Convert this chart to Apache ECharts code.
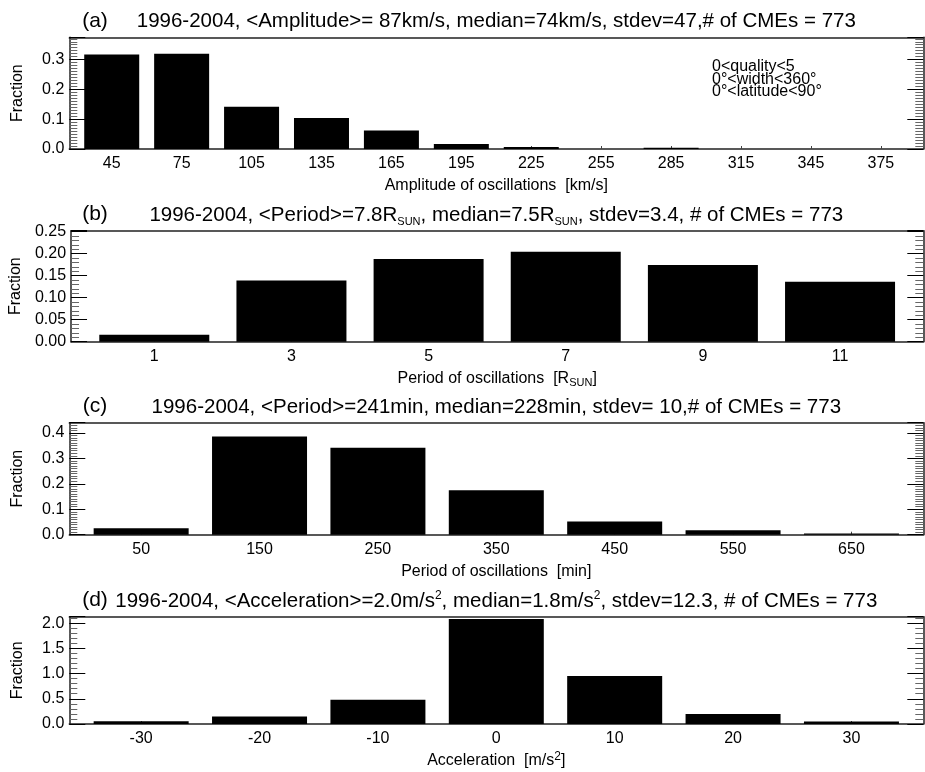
<!DOCTYPE html>
<html><head><meta charset="utf-8">
<script src="https://cdn.jsdelivr.net/npm/echarts@6/dist/echarts.min.js"></script>
<style>html,body{margin:0;padding:0;background:#fff}#c{width:925px;height:772px}</style>
</head><body><div id="c"></div>
<script>
// ---- Panel (a): amplitude of oscillations [km/s]
const ampBins = [45, 75, 105, 135, 165, 195, 225, 255, 285, 315, 345, 375];
const ampFraction = [0.317, 0.320, 0.142, 0.104, 0.062, 0.017, 0.0067, 0, 0.0045, 0, 0, 0];
// ---- Panel (b): period of oscillations [R_SUN]
const perRBins = [1, 3, 5, 7, 9, 11];
const perRFraction = [0.016, 0.139, 0.188, 0.204, 0.174, 0.136];
// ---- Panel (c): period of oscillations [min]
const perMinBins = [50, 150, 250, 350, 450, 550, 650];
const perMinFraction = [0.025, 0.386, 0.342, 0.175, 0.052, 0.017, 0.005];
// ---- Panel (d): acceleration [m/s^2]
const accBins = [-30, -20, -10, 0, 10, 20, 30];
const accFraction = [0.054, 0.150, 0.480, 2.080, 0.950, 0.200, 0.050];

const titleA = '1996-2004, <Amplitude>= 87km/s, median=74km/s, stdev=47,# of CMEs = 773';
const titleB = '1996-2004, <Period>=7.8R{s|SUN}, median=7.5R{s|SUN}, stdev=3.4, # of CMEs = 773';
const titleC = '1996-2004, <Period>=241min, median=228min, stdev= 10,# of CMEs = 773';
const titleD = '1996-2004, <Acceleration>=2.0m/s{p|2}, median=1.8m/s{p|2}, stdev=12.3, # of CMEs = 773';
const xNameA = 'Amplitude of oscillations  [km/s]';
const xNameB = 'Period of oscillations  [R{s|SUN}]';
const xNameC = 'Period of oscillations  [min]';
const xNameD = 'Acceleration  [m/s{p|2}]';
const annotation = '0<quality<5\n0°<width<360°\n0°<latitude<90°';

const FF = '"Liberation Sans", Arial, Helvetica, sans-serif';
const rich = {
  s: {fontSize: 11, lineHeight: 11, verticalAlign: 'bottom', fontFamily: FF, color: '#000'},
  p: {fontSize: 12, lineHeight: 12, verticalAlign: 'top', fontFamily: FF, color: '#000'}
};

const LEFT = 69.3, RIGHT = 1.7;
const panels = [
  {tag: '(a)', title: titleA, bins: ampBins, vals: ampFraction, top: 37.3, height: 111.7, xmin: 26.8, xmax: 393.2,
   ymax: 0.375, yint: 0.1, minor: 10, dec: 1, bw: 55, xname: xNameA},
  {tag: '(b)', title: titleB, bins: perRBins, vals: perRFraction, top: 230.7, height: 111, xmin: -0.214, xmax: 12.214,
   ymax: 0.252, yint: 0.05, minor: 5, dec: 2, bw: 110, xname: xNameB},
  {tag: '(c)', title: titleC, bins: perMinBins, vals: perMinFraction, top: 422.7, height: 112, xmin: -10.7, xmax: 710.7,
   ymax: 0.44, yint: 0.1, minor: 10, dec: 1, bw: 95, xname: xNameC},
  {tag: '(d)', title: titleD, bins: accBins, vals: accFraction, top: 616.7, height: 111, xmin: -36.07, xmax: 36.07,
   ymax: 2.128, yint: 0.5, minor: 5, dec: 1, bw: 95, xname: xNameD}
];

const boxLine = {color: '#222', width: 1.5};
const grid = [], xAxis = [], yAxis = [], series = [], graphic = [];
panels.forEach((p, i) => {
  grid.push({left: LEFT, right: RIGHT, top: p.top, height: p.height, containLabel: false});
  xAxis.push({
    gridIndex: i, type: 'value', position: 'bottom', min: p.xmin, max: p.xmax,
    axisLine: {show: true, onZero: false, lineStyle: boxLine},
    axisTick: {show: true, inside: true, length: 3, customValues: p.bins, lineStyle: {color: '#444'}},
    axisLabel: {show: true, customValues: p.bins, fontSize: 16, fontFamily: FF, color: '#000', margin: 7},
    splitLine: {show: false},
    name: p.xname, nameLocation: 'middle', nameGap: 27,
    nameTextStyle: {fontSize: 16, fontFamily: FF, color: '#000', lineHeight: 20, rich: rich}
  });
  xAxis.push({
    gridIndex: i, type: 'value', position: 'top', min: p.xmin, max: p.xmax,
    axisLine: {show: true, onZero: false, lineStyle: boxLine},
    axisTick: {show: false}, axisLabel: {show: false}, splitLine: {show: false}
  });
  const yBase = {
    gridIndex: i, type: 'value', min: 0, max: p.ymax, interval: p.yint,
    axisLine: {show: true, onZero: false, lineStyle: boxLine},
    axisTick: {show: true, inside: true, length: 16, lineStyle: {color: '#000', width: 1}},
    minorTick: {show: true, splitNumber: p.minor, length: 8, lineStyle: {color: '#666', width: 1}},
    splitLine: {show: false}, minorSplitLine: {show: false}
  };
  yAxis.push(Object.assign({}, yBase, {
    position: 'left',
    axisLabel: {show: true, showMaxLabel: false, formatter: v => v.toFixed(p.dec), fontSize: 16, fontFamily: FF, color: '#000', margin: 5},
    name: 'Fraction', nameLocation: 'middle', nameGap: 44,
    nameTextStyle: {fontSize: 16, fontFamily: FF, color: '#000'}
  }));
  yAxis.push(Object.assign({}, yBase, {position: 'right', axisLabel: {show: false}}));
  series.push({
    type: 'bar', xAxisIndex: 2 * i, yAxisIndex: 2 * i, barWidth: p.bw,
    data: p.bins.map((b, j) => [b, p.vals[j]]),
    itemStyle: {color: '#000'}, silent: true
  });
  const cy = p.top - 15.5;
  graphic.push({type: 'text', x: 95, y: cy - 1,
    style: {text: p.tag, fontSize: 21, fontFamily: FF, fill: '#000', align: 'center', verticalAlign: 'middle'}});
  graphic.push({type: 'text', x: LEFT + (925 - RIGHT - LEFT) / 2, y: cy,
    style: {text: p.title, rich: rich, fontSize: 20.5, fontFamily: FF, fill: '#000', lineHeight: 24,
            align: 'center', verticalAlign: 'middle'}});
});
graphic.push({type: 'text', x: 712, y: 60.5,
  style: {text: annotation, fontSize: 16, fontFamily: FF, fill: '#000', lineHeight: 12.5, align: 'left', verticalAlign: 'top'}});

const chart = echarts.init(document.getElementById('c'), null, {renderer: 'canvas'});
chart.setOption({animation: false, backgroundColor: '#fff', grid, xAxis, yAxis, series, graphic});
</script></body></html>
